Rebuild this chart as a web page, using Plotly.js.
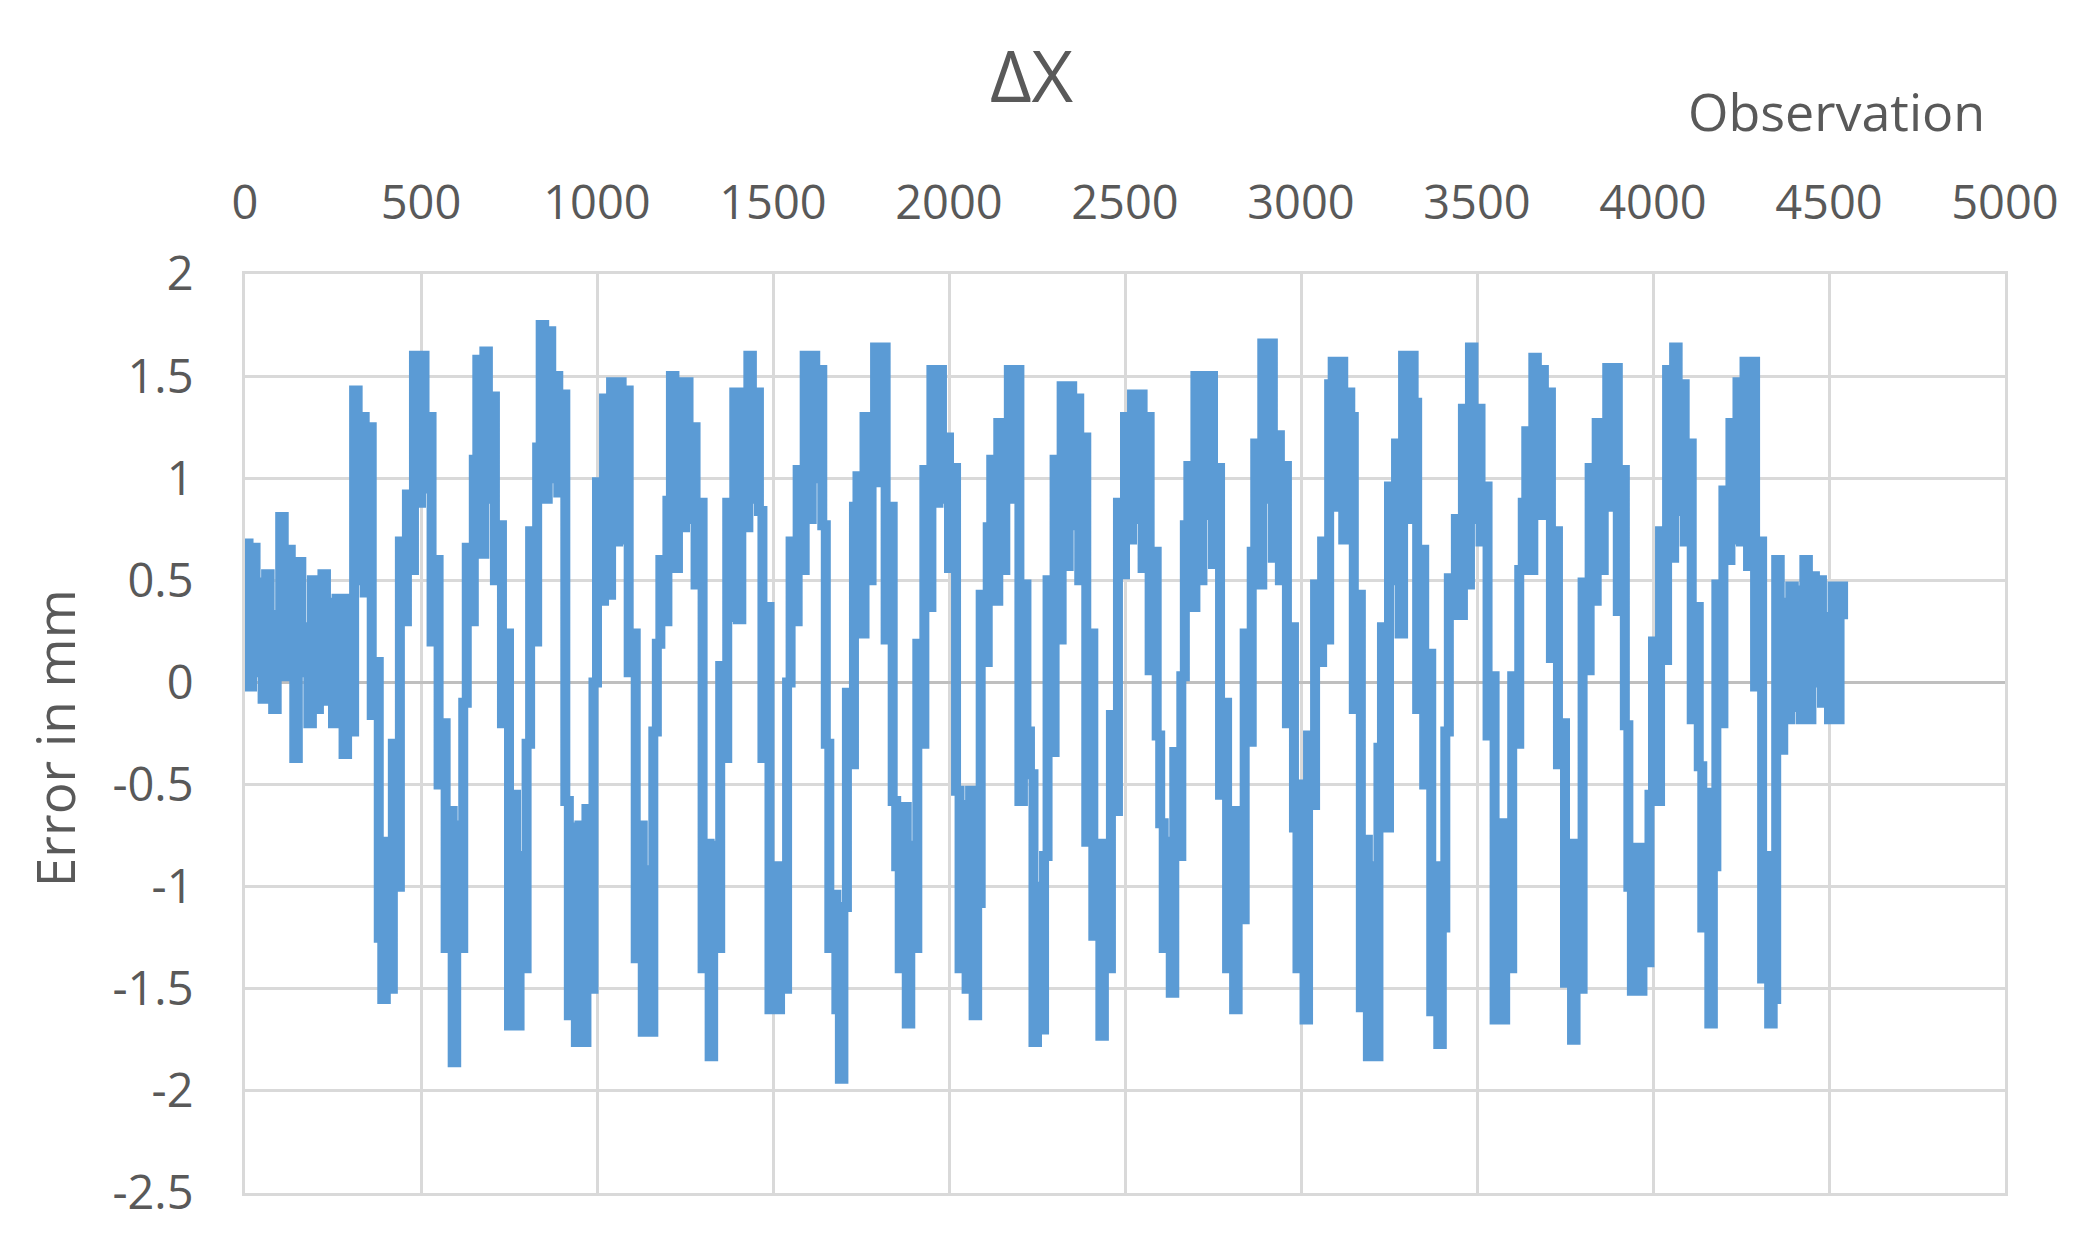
<!DOCTYPE html>
<html>
<head>
<meta charset="utf-8">
<script src="https://cdn.plot.ly/plotly-3.0.1.min.js"></script>
<style>
  html, body { margin: 0; padding: 0; background: #ffffff; }
  #chart { width: 2084px; height: 1240px; }
</style>
</head>
<body>
<div id="chart"></div>
<script>
const obsStep = 10;
const errorMm = [
  0.68, -0.02, 0.66, 0.05, 0.49, -0.08, 0.53, 0.0, -0.13, 0.33,        // 0
  0.81, 0.03, 0.65, 0.1, -0.37, 0.59, 0.05, 0.27, -0.2, 0.5,           // 100
  -0.13, 0.3, 0.53, -0.09, 0.39, -0.2, 0.41, -0.1, -0.35, 0.41,        // 200
  -0.24, 1.43, 0.5, 1.3, 0.44, 1.25, -0.16, 0.1, -1.25, -1.55,         // 300
  -0.78, -1.5, -0.3, -1.0, 0.69, 0.3, 0.92, 0.55, 1.6, 0.88,           // 400
  1.6, 0.95, 1.3, 0.2, 0.6, -0.5, -0.2, -1.3, -0.63, -1.86,            // 500
  -0.7, -1.3, -0.1, 0.66, 0.3, 1.09, 1.58, 0.63, 1.62, 0.9,            // 600
  1.4, 0.5, 0.77, -0.2, 0.24, -1.68, -0.55, -1.68, -0.85, -1.4,        // 700
  -0.3, 0.74, 0.2, 1.15, 1.75, 0.9, 1.72, 1.0, 1.5, 0.93,              // 800
  1.41, -0.58, -1.63, -0.71, -1.76, -0.7, -1.76, -0.62, -1.5, 0.0,     // 900
  0.98, 0.4, 1.39, 0.43, 1.47, 0.69, 1.47, 0.7, 1.43, 0.05,            // 1000
  0.24, -1.35, -0.7, -1.71, -0.92, -1.71, -0.24, 0.19, 0.6, 0.3,       // 1100
  0.89, 1.5, 0.56, 1.47, 0.76, 1.47, 0.8, 1.25, 0.48, 0.88,            // 1200
  -1.4, -0.79, -1.83, -0.8, -1.3, 0.08, -0.37, 0.88, 0.32, 1.42,       // 1300
  0.31, 1.42, 0.76, 1.6, 0.9, 1.42, 0.84, -0.37, 0.37, -1.6,           // 1400
  -0.9, -1.6, -0.9, -1.5, 0.0, 0.69, 0.3, 1.04, 0.55, 1.6,             // 1500
  0.8, 1.6, 1.0, 1.53, 0.77, -0.3, -1.3, -1.04, -1.6, -1.94,           // 1600
  -1.1, -0.05, -0.4, 0.86, 1.01, 0.24, 1.3, 0.5, 1.3, 1.64,            // 1700
  0.98, 1.64, 0.21, 0.86, -0.58, -0.9, -1.4, -0.61, -1.67, -0.8,       // 1800
  -1.3, 0.19, -0.3, 1.04, 0.37, 1.53, 0.88, 1.53, 0.9, 1.2,            // 1900
  0.56, 1.05, -0.53, -1.4, -0.6, -1.5, -0.53, -1.63, -1.08, 0.43,      // 2000
  0.1, 0.76, 1.09, 0.4, 1.27, 0.55, 1.27, 1.53, 0.9, 1.53,             // 2100
  -0.58, 0.48, -0.24, -0.45, -1.76, -1.0, -1.7, -0.85, 0.5, -0.34,     // 2200
  1.09, 0.21, 1.45, 0.57, 1.45, 0.77, 1.39, 0.5, 1.2, -0.78,           // 2300
  0.24, -1.24, -0.79, -1.73, -0.79, -1.4, -0.16, -0.63, 0.88, 0.53,    // 2400
  1.3, 0.7, 1.41, 0.8, 1.41, 0.56, 1.3, 0.06, 0.64, -0.26,             // 2500
  -0.69, -1.3, -0.78, -1.52, -0.34, -0.85, 0.03, 0.77, 1.06, 0.37,     // 2600
  1.5, 0.5, 1.5, 0.82, 1.5, 0.58, 1.05, -0.55, -0.1, -1.4,             // 2700
  -0.63, -1.6, -0.63, -1.16, 0.24, -0.29, 0.64, 1.17, 0.48, 1.66,      // 2800
  0.9, 1.66, 0.61, 1.21, 0.5, 1.06, -0.2, 0.27, -0.71, -1.4,           // 2900
  -0.5, -1.65, -0.26, -0.6, 0.48, 0.1, 0.69, 0.21, 1.46, 1.57,         // 3000
  0.86, 1.57, 0.7, 1.42, 1.3, -0.13, 0.43, -1.59, -0.77, -1.83,        // 3100
  -0.9, -1.83, -0.32, 0.27, -0.71, 0.96, 0.5, 1.17, 0.24, 1.6,         // 3200
  0.8, 1.6, 1.37, -0.13, 0.65, -0.5, 0.14, -1.61, -0.9, -1.77,         // 3300
  -1.2, -0.24, 0.51, 0.33, 0.8, 0.33, 1.34, 0.48, 1.64, 0.8,           // 3400
  1.34, 0.69, 0.96, -0.26, 0.03, -1.65, -0.69, -1.65, -0.69, -1.4,     // 3500
  0.03, -0.3, 0.55, 0.88, 1.23, 0.55, 1.59, 0.82, 1.53, 0.82,          // 3600
  1.42, 0.12, 0.74, -0.4, -0.2, -1.47, -0.79, -1.75, -0.79, -1.5,      // 3700
  0.49, 0.06, 1.05, 0.4, 1.27, 0.55, 1.27, 1.54, 0.86, 1.54,           // 3800
  0.35, 1.04, -0.21, -1.0, -1.51, -0.81, -1.51, -0.81, -1.37, -0.55,   // 3900
  0.2, -0.58, 0.74, 0.11, 1.53, 0.61, 1.64, 0.84, 1.46, 0.69,          // 4000
  1.17, -0.18, 0.37, -0.41, -1.2, -0.54, -1.67, -0.9, 0.48, -0.2,      // 4100
  0.94, 0.6, 1.27, 0.7, 1.47, 0.69, 1.57, 0.57, 1.57, -0.02,           // 4200
  0.69, -1.45, -0.85, -1.67, -1.55, 0.6, -0.33, 0.39, -0.18, 0.47,     // 4300
  -0.12, 0.45, -0.18, 0.6, -0.18, 0.52, 0.0, 0.5, -0.1, 0.32,          // 4400
  -0.18, 0.47, -0.18, 0.47, 0.31                                       // 4500
];
const observation = errorMm.map((_, i) => i * obsStep);

const xTicks = [0, 500, 1000, 1500, 2000, 2500, 3000, 3500, 4000, 4500, 5000];
const yTicks = [-2.5, -2, -1.5, -1, -0.5, 0, 0.5, 1, 1.5, 2];
const yTickText = ['-2.5', '-2', '-1.5', '-1', '-0.5', '0', '0.5', '1', '1.5', '2'];

const textColor = '#595959';
const fontFamily = '"Open Sans", "DejaVu Sans", sans-serif';

// step shape gives the blocky look of the dense raw series
const trace = {
    x: observation,
    y: errorMm,
    type: 'scatter',
    mode: 'lines',
    line: { color: '#5b9bd5', width: 10, shape: 'hv', simplify: false },
    hoverinfo: 'x+y'
};

const layout = {
    width: 2084,
    height: 1240,
    paper_bgcolor: '#ffffff',
    plot_bgcolor: '#ffffff',
    showlegend: false,
    margin: { l: 245, r: 79, t: 274, b: 47 },
    font: { family: fontFamily, color: textColor },
    title: {
        text: 'ΔX',
        font: { family: fontFamily, size: 72, color: textColor },
        xref: 'container', yref: 'container',
        x: 0.495, y: 0.938,
        xanchor: 'center', yanchor: 'middle'
    },
    xaxis: {
        side: 'top',
        range: [0, 5000],
        tickvals: xTicks,
        ticktext: xTicks.map(String),
        ticks: '',
        ticklabelstandoff: 33,
        tickfont: { family: fontFamily, size: 47, color: textColor },
        showgrid: true,
        gridcolor: '#d9d9d9',
        gridwidth: 3,
        zeroline: true,
        zerolinecolor: '#bfbfbf',
        zerolinewidth: 3,
        showline: true,
        mirror: true,
        linecolor: '#d9d9d9',
        linewidth: 3
    },
    yaxis: {
        range: [-2.5, 2],
        tickvals: yTicks,
        ticktext: yTickText,
        ticks: '',
        ticklabelstandoff: 39,
        tickfont: { family: fontFamily, size: 47, color: textColor },
        showgrid: true,
        gridcolor: '#d9d9d9',
        gridwidth: 3,
        zeroline: true,
        zerolinecolor: '#bfbfbf',
        zerolinewidth: 3,
        showline: true,
        mirror: true,
        linecolor: '#d9d9d9',
        linewidth: 3
    },
    annotations: [
        {
            text: 'Observation',
            xref: 'paper', yref: 'paper',
            x: 0.904, y: 1.1775,
            xanchor: 'center', yanchor: 'middle',
            showarrow: false,
            font: { family: fontFamily, size: 52, color: textColor }
        },
        {
            text: 'Error in mm',
            xref: 'paper', yref: 'paper',
            x: -0.1085, y: 0.495,
            xanchor: 'center', yanchor: 'middle',
            textangle: -90,
            showarrow: false,
            font: { family: fontFamily, size: 53, color: textColor }
        }
    ]
};

Plotly.newPlot('chart', [trace], layout, { displayModeBar: false, responsive: false });
</script>
</body>
</html>
